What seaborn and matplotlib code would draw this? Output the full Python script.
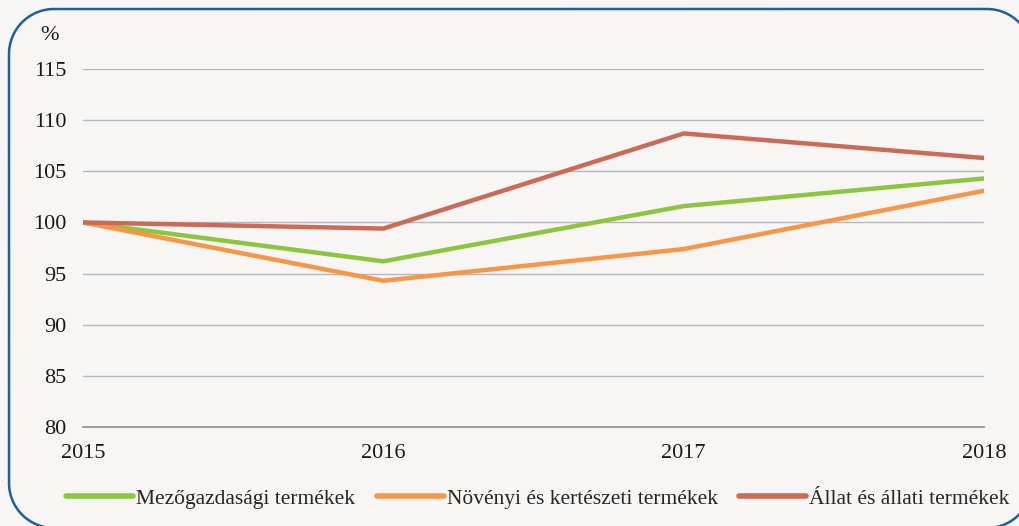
import matplotlib
matplotlib.use("Agg")
import matplotlib.pyplot as plt
import seaborn as sns
import pandas as pd
import numpy as np
from matplotlib.lines import Line2D
from matplotlib.transforms import IdentityTransform

years = [2015, 2016, 2017, 2018]
mezogazdasagi = [100.0, 96.2, 101.6, 104.3]
novenyi = [100.0, 94.3, 97.4, 103.1]
allat = [100.0, 99.4, 108.7, 106.3]
series_names = ["Mezőgazdasági termékek", "Növényi és kertészeti termékek", "Állat és állati termékek"]
colors = ["#8cc63e", "#f79646", "#cc6a55"]
yticks = [80, 85, 90, 95, 100, 105, 110, 115]

df = pd.DataFrame({
    "year": years * 3,
    "value": mezogazdasagi + novenyi + allat,
    "series": [series_names[0]] * 4 + [series_names[1]] * 4 + [series_names[2]] * 4,
})

sns.set_theme(style="white")
plt.rcParams["font.family"] = ["Liberation Serif", "DejaVu Serif"]
bg = "#f7f6f4"
W, H = 1019, 526
fig = plt.figure(figsize=(W / 100, H / 100), dpi=100, facecolor=bg)
ax = fig.add_axes([0.0815, 0.1882, 0.8842, 0.6806])
ax.set_facecolor(bg)

for y in yticks[1:]:
    ax.axhline(y, color="#b5b8bd", lw=1.0, zorder=1)

sns.lineplot(data=df, x="year", y="value", hue="series", palette=colors,
             hue_order=series_names, lw=3.2, ax=ax, legend=True, zorder=3,
             solid_capstyle="round")

ax.set_xlim(2015, 2018)
ax.set_ylim(80, 115)
ax.set_xticks(years)
ax.set_xticklabels([str(y) for y in years])
ax.set_yticks(yticks)
ax.set_xlabel("")
ax.set_ylabel("")
for s in ["top", "right", "left"]:
    ax.spines[s].set_visible(False)
ax.spines["bottom"].set_color("#8c8c8c")
ax.spines["bottom"].set_linewidth(1.2)
ax.tick_params(axis="x", length=7, width=1.2, color="#8c8c8c", direction="out",
               labelsize=16, pad=5, labelcolor="#1a1a1a")
ax.tick_params(axis="y", length=0, labelsize=16, pad=12, labelcolor="#1a1a1a")
ax.text(-0.048, 1.095, "%", transform=ax.transAxes, fontsize=16, ha="left",
        va="center", color="#1a1a1a")

handles, labels = ax.get_legend_handles_labels()
ax.legend_.remove()
leg = fig.legend(handles, labels, loc="center", bbox_to_anchor=(0.528, 0.052), ncol=3,
                 frameon=False, fontsize=15.5, handlelength=3.1, handletextpad=0.15,
                 columnspacing=1.0)
for h in leg.legend_handles:
    h.set_linewidth(4)

# rounded border (pixel coordinates, origin bottom-left), drawn as a polyline
x0, x1, y0, y1, r = 9.0, 1032.0, -2.0, 517.0, 45.0
corners = [((x1 - r, y1 - r), 0, 90), ((x0 + r, y1 - r), 90, 180),
           ((x0 + r, y0 + r), 180, 270), ((x1 - r, y0 + r), 270, 360)]
bx, by = [], []
for (cx, cy), a0, a1 in corners:
    t = np.radians(np.linspace(a0, a1, 40))
    bx.extend(cx + r * np.cos(t))
    by.extend(cy + r * np.sin(t))
bx.append(bx[0])
by.append(by[0])
fig.add_artist(Line2D(bx, by, transform=IdentityTransform(), color="#1d5fa0", lw=1.8))

fig.savefig("out.png", dpi=100, facecolor=bg)
